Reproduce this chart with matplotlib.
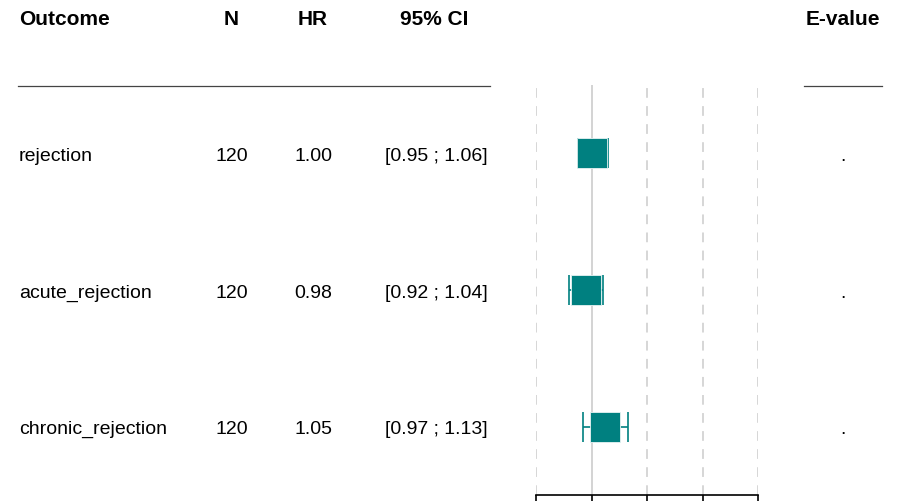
import matplotlib
matplotlib.use("Agg")
import matplotlib.pyplot as plt
import matplotlib.transforms as mtransforms

# ---- data ----
outcomes = ["rejection", "acute_rejection", "chronic_rejection"]
n_vals = [120, 120, 120]
hr = [1.00, 0.98, 1.05]
ci_low = [0.95, 0.92, 0.97]
ci_high = [1.06, 1.04, 1.13]
evalues = [".", ".", "."]
headers = ["Outcome", "N", "HR", "95% CI", "E-value"]
x_ticks = [0.8, 1.0, 1.2, 1.4, 1.6]

plt.rcParams["font.family"] = ["Liberation Sans", "DejaVu Sans"]
plt.rcParams["lines.scale_dashes"] = False

W, H = 907, 501
fig = plt.figure(figsize=(W / 100, H / 100), dpi=100)

# forest axes in pixel layout
ax_l, ax_r, ax_t, ax_b = 536, 758, 85, 495
ax = fig.add_axes([ax_l / W, 1 - ax_b / H, (ax_r - ax_l) / W, (ax_b - ax_t) / H])
nrow = len(outcomes)
ypos = [nrow - i for i in range(nrow)]
ax.set_xlim(x_ticks[0], x_ticks[-1])
ax.set_ylim(0.5, nrow + 0.5)

teal = "#008080"
for xv in x_ticks:
    if xv == 1.0:
        continue
    ax.axvline(xv, color="#cfcfcf", lw=1.2, ls=(0, (7, 6)), zorder=0)
ax.axvline(1.0, color="#c8c8c8", lw=1.1, zorder=1)

for i in range(nrow):
    ax.errorbar(hr[i], ypos[i], xerr=[[hr[i] - ci_low[i]], [ci_high[i] - hr[i]]],
                fmt="none", ecolor=teal, elinewidth=1.2, capsize=10.6, capthick=1.2, zorder=2)
    ax.plot(hr[i], ypos[i], marker="s", markersize=21.6, color=teal,
            markeredgecolor="#e8f3f3", markeredgewidth=0.6, zorder=3)

for s in ["top", "right", "left"]:
    ax.spines[s].set_visible(False)
ax.spines["bottom"].set_linewidth(1.2)
ax.set_xticks(x_ticks)
ax.set_xticklabels([])
ax.tick_params(axis="x", length=4, width=1.2, color="black")
ax.set_yticks([])

# text columns (x in pixels -> figure fraction, y in data units with pixel offsets)
def tr(dy_px):
    base = mtransforms.blended_transform_factory(fig.transFigure, ax.transData)
    return mtransforms.offset_copy(base, fig=fig, y=dy_px, units="dots")

body_tr = tr(-7.5)
head_tr = tr(-8)
head_y = nrow + 1
hsize = 15
bsize = 14.0

hx = [19, 231, 313, 434, 843]
has = ["left", "center", "center", "center", "center"]
for txt, x, ha in zip(headers, hx, has):
    fig.text(x / W, head_y, txt, transform=head_tr, ha=ha, va="baseline",
             fontsize=hsize, fontweight="bold")

for i in range(nrow):
    y = ypos[i]
    fig.text(19 / W, y, outcomes[i], transform=body_tr, ha="left", va="baseline", fontsize=bsize)
    fig.text(232 / W, y, f"{n_vals[i]}", transform=body_tr, ha="center", va="baseline", fontsize=bsize)
    fig.text(313 / W, y, f"{hr[i]:.2f}", transform=body_tr, ha="center", va="baseline", fontsize=bsize)
    fig.text(436 / W, y, f"[{ci_low[i]:.2f} ; {ci_high[i]:.2f}]", transform=body_tr,
             ha="center", va="baseline", fontsize=bsize)
    fig.text(843 / W, y, evalues[i], transform=body_tr, ha="center", va="baseline", fontsize=bsize)

# header rules
line_y = 1 - 86 / H
fig.add_artist(plt.Line2D([18 / W, 490 / W], [line_y, line_y], color="#444444", lw=0.9))
fig.add_artist(plt.Line2D([804 / W, 882 / W], [line_y, line_y], color="#444444", lw=0.9))

fig.savefig("out.png", dpi=100, facecolor="white")
